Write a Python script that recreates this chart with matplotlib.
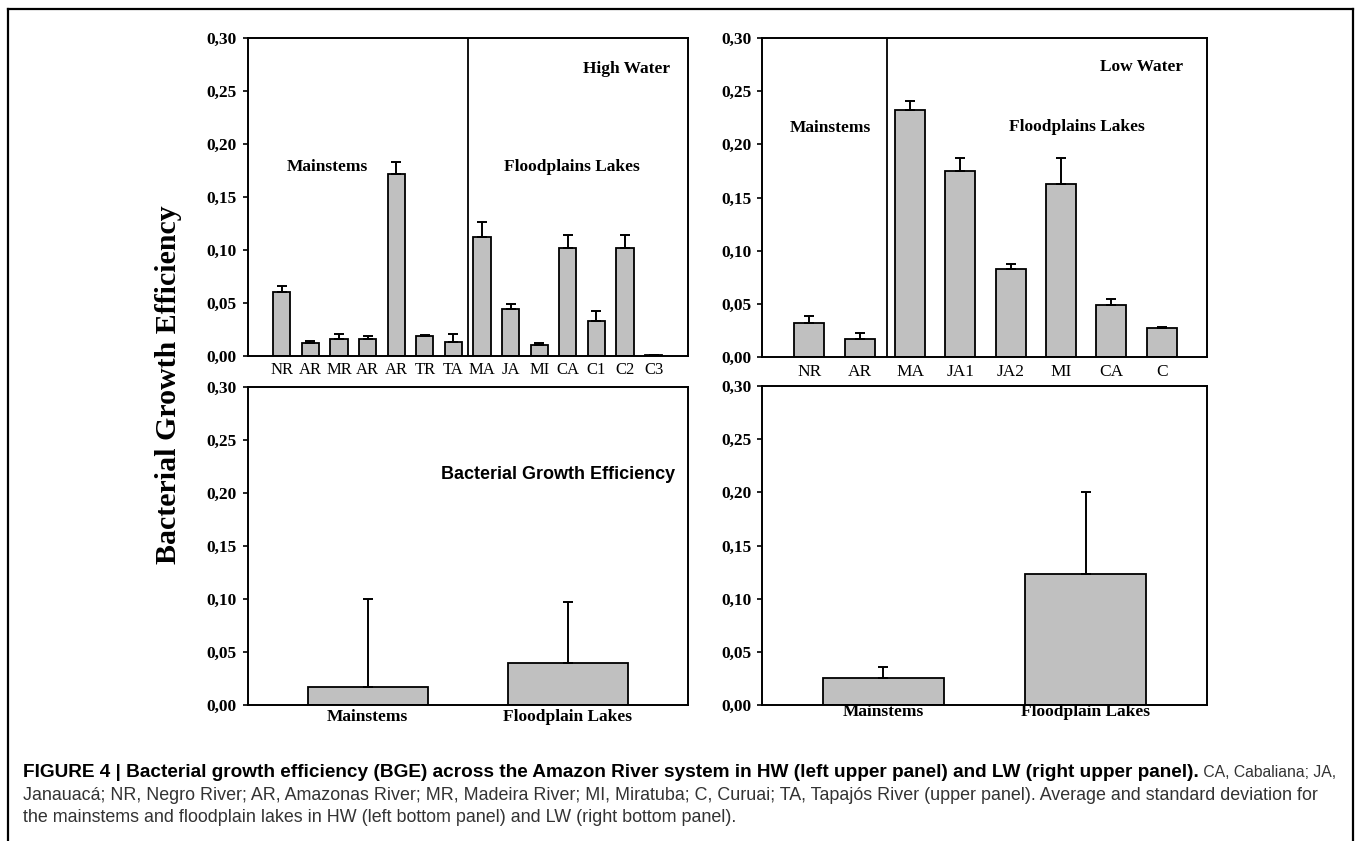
import numpy as np
import matplotlib
matplotlib.use("Agg")
import matplotlib.pyplot as plt
from matplotlib.lines import Line2D

# Datos (BGE y desviación estándar)

# Panel superior izquierdo: aguas altas (HW)
hw_sites = ["NR", "AR", "MR", "AR", "AR", "TR", "TA", "MA", "JA", "MI", "CA", "C1", "C2", "C3"]
hw_bge = [0.060, 0.012, 0.016, 0.016, 0.172, 0.019, 0.0135, 0.112, 0.044, 0.010, 0.102, 0.033, 0.102, 0.001]
hw_sd = [0.006, 0.0025, 0.005, 0.003, 0.011, 0.001, 0.0075, 0.014, 0.005, 0.002, 0.012, 0.009, 0.012, 0.0]

# Panel superior derecho: aguas bajas (LW)
lw_sites = ["NR", "AR", "MA", "JA1", "JA2", "MI", "CA", "C"]
lw_bge = [0.032, 0.017, 0.232, 0.175, 0.083, 0.163, 0.049, 0.027]
lw_sd = [0.007, 0.006, 0.009, 0.012, 0.0045, 0.024, 0.006, 0.0015]

# Paneles inferiores: promedio por grupo
groups = ["Mainstems", "Floodplain Lakes"]
hw_group_bge = [0.017, 0.040]
hw_group_sd = [0.083, 0.057]
lw_group_bge = [0.0255, 0.123]
lw_group_sd = [0.010, 0.077]

yticks = [0.00, 0.05, 0.10, 0.15, 0.20, 0.25, 0.30]
ytick_labels = ["0,00", "0,05", "0,10", "0,15", "0,20", "0,25", "0,30"]

caption_bold = ("FIGURE 4 | Bacterial growth efficiency (BGE) across the Amazon River system "
                "in HW (left upper panel) and LW (right upper panel).")
caption_lines = [
    " CA, Cabaliana; JA,",
    "Janauacá; NR, Negro River; AR, Amazonas River; MR, Madeira River; MI, Miratuba; C, Curuai; "
    "TA, Tapajós River (upper panel). Average and standard deviation for",
    "the mainstems and floodplain lakes in HW (left bottom panel) and LW (right bottom panel).",
]

SERIF = "Liberation Serif"
SANS = "Liberation Sans"
BAR_COLOR = "#c0c0c0"

W, H = 1357, 841
fig = plt.figure(figsize=(W / 100, H / 100), dpi=100)


def px_axes(left, top, right, bottom):
    # ejes a partir de coordenadas en píxeles de la imagen
    return fig.add_axes([left / W, 1 - bottom / H, (right - left) / W, (bottom - top) / H])


def style_axis(ax):
    ax.set_ylim(0, 0.30)
    ax.set_yticks(yticks)
    ax.set_yticklabels(ytick_labels, fontfamily=SERIF, fontweight="bold", fontsize=12.5)
    ax.tick_params(axis="y", direction="out", length=3.8, width=1.2, pad=4)
    ax.tick_params(axis="x", length=0)
    for s in ax.spines.values():
        s.set_linewidth(1.4)


def draw_bars(ax, vals, sd, width=0.6):
    x = np.arange(len(vals))
    ax.bar(x, vals, width=width, color=BAR_COLOR, edgecolor="black", linewidth=1.3, zorder=2)
    ax.errorbar(x, vals, yerr=[np.zeros(len(sd)), sd], fmt="none", ecolor="black",
                elinewidth=1.4, capsize=3.3, capthick=1.4, zorder=3)
    return x


def label(ax, x, y, s, size=12.5):
    ax.text(x, y, s, ha="center", va="center", fontfamily=SERIF, fontweight="bold", fontsize=size)


# Parte superior izquierda: HW por sitio
ax1 = px_axes(247.5, 38, 688, 356)
x1 = draw_bars(ax1, hw_bge, hw_sd)
style_axis(ax1)
ax1.set_xlim(-1.2, len(hw_sites) - 1 + 1.2)
ax1.set_xticks(x1)
ax1.set_xticklabels(hw_sites, fontfamily=SERIF, fontsize=12)
ax1.tick_params(axis="x", pad=4)
ax1.axvline(6.5, color="black", lw=1.3)
label(ax1, 1.59, 0.178, "Mainstems")
label(ax1, 10.14, 0.178, "Floodplains Lakes")
label(ax1, 12.06, 0.271, "High Water")

# Parte superior derecha: LW por sitio
ax2 = px_axes(762, 38, 1207, 357)
x2 = draw_bars(ax2, lw_bge, lw_sd)
style_axis(ax2)
ax2.set_xlim(-0.94, len(lw_sites) - 1 + 0.9)
ax2.set_xticks(x2)
ax2.set_xticklabels(lw_sites, fontfamily=SERIF, fontsize=12.5)
ax2.tick_params(axis="x", pad=5)
ax2.axvline(1.55, color="black", lw=1.3)
label(ax2, 0.42, 0.2155, "Mainstems")
label(ax2, 5.31, 0.2165, "Floodplains Lakes")
label(ax2, 6.6, 0.273, "Low Water")

# Parte inferior izquierda: promedio HW
ax3 = px_axes(247.5, 387, 688, 705)
x3 = draw_bars(ax3, hw_group_bge, hw_group_sd)
style_axis(ax3)
ax3.set_xlim(-0.6, 1.6)
ax3.set_xticks(x3)
ax3.set_xticklabels(groups, fontfamily=SERIF, fontweight="bold", fontsize=12.5)
ax3.tick_params(axis="x", pad=3)
ax3.text(0.95, 0.217, "Bacterial Growth Efficiency", ha="center", va="center",
         fontfamily=SANS, fontweight="bold", fontsize=13)

# Parte inferior derecha: promedio LW
ax4 = px_axes(762, 386, 1207, 705)
x4 = draw_bars(ax4, lw_group_bge, lw_group_sd)
style_axis(ax4)
ax4.set_xlim(-0.6, 1.6)
ax4.set_xticks(x4)
ax4.set_xticklabels(groups, fontfamily=SERIF, fontweight="bold", fontsize=12.5)
ax4.tick_params(axis="x", pad=-1)

# Etiqueta común del eje y
fig.text(168 / W, 1 - 385 / H, "Bacterial Growth Efficiency", rotation=90, ha="center", va="center",
         fontfamily=SERIF, fontweight="bold", fontsize=21.5)

# Marco de la figura
frame = dict(color="black", lw=1.6)
fig.add_artist(Line2D([8 / W, 1352.5 / W], [1 - 9 / H, 1 - 9 / H], **frame))
fig.add_artist(Line2D([8 / W, 8 / W], [1 - 9 / H, 0], **frame))
fig.add_artist(Line2D([1352.5 / W, 1352.5 / W], [1 - 9 / H, 0], **frame))

# Pie de figura: parte en negrita y luego texto normal
t_bold = fig.text(23 / W, 1 - 777 / H, caption_bold, ha="left", va="baseline",
                  fontfamily=SANS, fontweight="bold", fontsize=13.7, color="black")
fig.canvas.draw()
bb = t_bold.get_window_extent(fig.canvas.get_renderer())
fig.text(bb.x1 / W, 1 - 777 / H, caption_lines[0], ha="left", va="baseline",
         fontfamily=SANS, fontsize=11.3, color="#333333")
for i, line in enumerate(caption_lines[1:]):
    fig.text(23 / W, 1 - (800 + 22 * i) / H, line, ha="left", va="baseline",
             fontfamily=SANS, fontsize=12.9, color="#333333")

fig.savefig("out.png", dpi=100)
